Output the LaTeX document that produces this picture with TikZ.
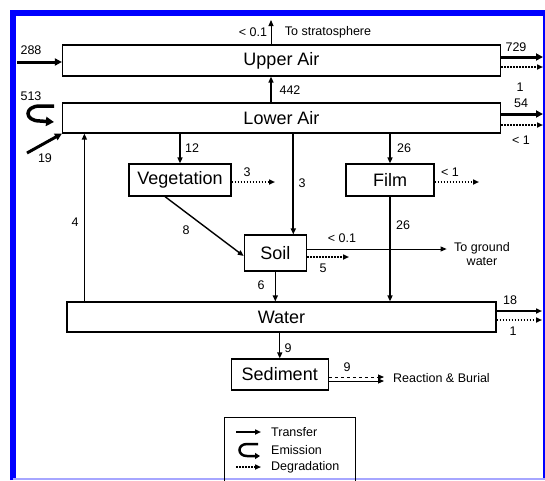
\documentclass[tikz,border=0pt]{standalone}
\usepackage{fontspec}
\setmainfont{Liberation Sans}
\usetikzlibrary{arrows.meta}
\usetikzlibrary{calc}
\tikzset{>={Triangle[length=6pt,width=5pt]}}
\tikzset{comp/.style={draw,line width=1.2pt,inner sep=0pt,font=\fontsize{18}{20}\selectfont}}
\tikzset{ed/.style={inner sep=1pt,font=\fontsize{12.5}{14}\selectfont}}
\tikzset{flow/.style={->,line width=1.4pt}}
\tikzset{thinflow/.style={->,line width=0.9pt}}
\tikzset{bigflow/.style={-{Triangle[length=7pt,width=7pt]},line width=3pt}}
\tikzset{degr/.style={->,line width=1.8pt,dash pattern=on 1.8pt off 1.2pt}}
\tikzset{emis/.style={-{Triangle[length=8pt,width=9pt]},line width=3.5pt}}

\begin{document}
\begin{tikzpicture}[x=1pt,y=-1pt]
        \useasboundingbox (0,0) rectangle (545,480);
        % frame
        \draw[blue,line width=5.5pt] (12.75,480) -- (12.75,12.75) -- (545,12.75);
        \draw[blue,line width=1.5pt] (544,12.75) -- (544,480);
        \draw[blue!35,line width=1.5pt] (12.75,479) -- (545,479);

        % compartments
        \node[comp,minimum width=438pt,minimum height=31pt] (upper) at (281.5,60.5) {Upper Air};
        \node[comp,minimum width=438pt,minimum height=30pt] (lower) at (281.5,118) {Lower Air};
        \node[comp,minimum width=102pt,minimum height=32pt] (veg) at (180,180) {Vegetation};
        \node[comp,minimum width=88pt,minimum height=32pt] (film) at (390,180) {Film};
        \node[comp,minimum width=62pt,minimum height=36pt] (soil) at (275.3,253) {Soil};
        \node[comp,minimum width=429pt,minimum height=30pt] (water) at (281.5,317) {Water};
        \node[comp,minimum width=97pt,minimum height=31pt] (sed) at (279.75,374.5) {Sediment};

        % transfers between compartments
        \draw[flow] ([xshift=-10.5pt]lower.north) -- ([xshift=-10.5pt]upper.south);
        \draw[flow] (lower.south -| veg.north) -- (veg.north);
        \draw[flow,line width=2pt] ([xshift=18pt]soil.north |- lower.south) -- ([xshift=18pt]soil.north);
        \draw[flow] (lower.south -| film.north) -- (film.north);
        \draw[flow] ([xshift=18pt]water.north west) -- ([xshift=18pt]water.north west |- lower.south);
        \draw[flow] ([xshift=-15pt]veg.south) -- ($(soil.west)+(0,3)$);
        \draw[flow] (soil.south) -- (soil.south |- water.north);
        \draw[flow] (film.south) -- (film.south |- water.north);
        \draw[flow] (sed.north |- water.south) -- (sed.north);

        % inputs
        \coordinate (in288) at (17,62);
        \draw[bigflow] (in288) -- (in288 -| upper.west);
        \coordinate (in19) at (27,153);
        \draw[bigflow] (in19) -- (lower.south west);
        \draw[emis] (54,106) -- (40,106) .. controls (24,106) and (24,121) .. (40,121) -- (54,122);

        % losses
        \coordinate (strat) at (271,20);
        \draw[thinflow] (strat |- upper.north) -- (strat);
        \coordinate (out729) at (543,57);
        \draw[bigflow] (out729 -| upper.east) -- (out729);
        \coordinate (deg1) at (543,67);
        \draw[degr] (deg1 -| upper.east) -- (deg1);
        \coordinate (out54) at (543,114);
        \draw[bigflow] (out54 -| lower.east) -- (out54);
        \coordinate (deg54) at (543,125);
        \draw[degr] (deg54 -| lower.east) -- (deg54);
        \coordinate (vdeg) at (275,182);
        \draw[degr] (vdeg -| veg.east) -- (vdeg);
        \coordinate (fdeg) at (479,182);
        \draw[degr] (fdeg -| film.east) -- (fdeg);
        \coordinate (gw) at (446.6,249);
        \draw[thinflow] (gw -| soil.east) -- (gw);
        \coordinate (sdeg) at (349,257);
        \draw[degr] (sdeg -| soil.east) -- (sdeg);
        \coordinate (out18) at (542,311);
        \draw[flow,line width=2pt] (out18 -| water.east) -- (out18);
        \coordinate (deg18) at (542,320);
        \draw[degr] (deg18 -| water.east) -- (deg18);
        \coordinate (burD) at (384,377);
        \draw[thinflow,dashed] (burD -| sed.east) -- (burD);
        \coordinate (burS) at (384,381);
        \draw[thinflow] (burS -| sed.east) -- (burS);

        % flow labels
        \node[ed] (lstrat) at (253,32) {< 0.1};
        \node[ed] (tstrat) at (328,32) {To stratosphere};
        \node[ed] (l288) at (31,50) {288};
        \node[ed] (l729) at (516,47) {729};
        \node[ed] (ld1) at (520,87) {1};
        \node[ed] (l442) at (290,90) {442};
        \node[ed] (l513) at (31,96) {513};
        \node[ed] (l54) at (521,103) {54};
        \node[ed] (ld54) at (521,140) {< 1};
        \node[ed] (l19) at (45,158) {19};
        \node[ed] (l12) at (192,148) {12};
        \node[ed] (l26a) at (404,148) {26};
        \node[ed] (l3s) at (302,183) {3};
        \node[ed] (l4) at (75,222) {4};
        \node[ed] (l3v) at (247,172) {3};
        \node[ed] (lfd) at (450,172) {< 1};
        \node[ed] (l8) at (186,230) {8};
        \node[ed] (lgw) at (342,238) {< 0.1};
        \node[ed,align=center] (tgw) at (482,254) {To ground\\water};
        \node[ed] (l5) at (323,268) {5};
        \node[ed] (l6) at (261,285) {6};
        \node[ed] (l26b) at (403,225) {26};
        \node[ed] (l18) at (510,300) {18};
        \node[ed] (ld18) at (513,331) {1};
        \node[ed] (l9a) at (288,348) {9};
        \node[ed] (l9b) at (347,367) {9};
        \node[ed,anchor=west] (tbur) at (392,378) {Reaction \& Burial};

        % legend
        \node[draw,line width=1pt,minimum width=131pt,minimum height=64pt,inner sep=0pt] (legend) at (289.5,449) {};
        \draw[flow,line width=2.5pt] (236,432) -- (261,432);
        \draw[emis,line width=2.5pt,-{Triangle[length=5pt,width=6pt]}] (258,444) -- (247,444) .. controls (237,444) and (237,456) .. (247,456) -- (260,456);
        \draw[degr] (236,467) -- (261,467);
        \node[ed,anchor=west] (ktr) at (270,432) {Transfer};
        \node[ed,anchor=west] (kem) at (270,450) {Emission};
        \node[ed,anchor=west] (kdg) at (270,467) {Degradation};
\end{tikzpicture}
\end{document}
